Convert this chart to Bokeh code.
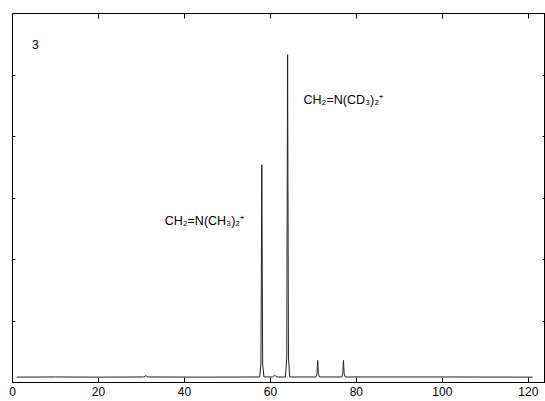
from bokeh.plotting import figure
from bokeh.models import Range1d, LinearAxis, FixedTicker, Label, CustomLabelingPolicy
from bokeh.embed import file_html
from bokeh.resources import INLINE

# spectrum (m/z, relative intensity in axis units)
mz = [1.0, 10.0, 20.0, 30.5, 31.0, 31.5, 45.0, 57.5, 57.8, 58.0, 58.2, 58.5,
      60.5, 61.0, 61.5, 63.5, 63.8, 64.0, 64.2, 64.5,
      70.6, 70.85, 71.0, 71.15, 71.4, 76.6, 76.85, 77.0, 77.15, 77.4, 100.0, 121.0]
intensity = [0.087, 0.09, 0.087, 0.09, 0.11, 0.09, 0.087, 0.09, 0.3, 3.54, 0.3, 0.09,
             0.09, 0.12, 0.09, 0.09, 0.4, 5.33, 0.4, 0.09,
             0.09, 0.15, 0.36, 0.15, 0.09, 0.09, 0.15, 0.36, 0.15, 0.09, 0.09, 0.087]

x_ticks = [0, 20, 40, 60, 80, 100, 120]
y_ticks = [1, 2, 3, 4, 5]

panel_label = "3"
ann_texts = ["CH₂=N(CD₃)₂⁺", "CH₂=N(CH₃)₂⁺"]
ann_x = [67.7, 35.4]
ann_y = [4.59, 2.62]

FONT = "Liberation Sans"

p = figure(width=545, height=401, output_backend="svg", toolbar_location=None,
           x_range=Range1d(0, 124), y_range=Range1d(0, 6),
           x_axis_location=None, y_axis_location=None,
           min_border_left=12, min_border_top=13, min_border_right=0, min_border_bottom=19)
p.xgrid.visible = False
p.ygrid.visible = False
p.outline_line_color = "black"
p.outline_line_width = 1
p.background_fill_color = "white"
p.border_fill_color = "white"

def mk_axis(ticks, labels=False):
    ax = LinearAxis(ticker=FixedTicker(ticks=ticks))
    ax.major_tick_in = 5
    ax.major_tick_out = 0
    ax.minor_tick_in = 0
    ax.minor_tick_out = 0
    ax.axis_line_color = "black"
    ax.major_tick_line_color = "black"
    ax.major_label_text_font = FONT
    if labels:
        ax.major_label_text_font_size = "12px"
        ax.major_label_text_color = "black"
        ax.major_label_standoff = 4
    else:
        ax.major_label_text_font_size = "0px"
        ax.major_label_standoff = 0
        ax.major_label_policy = CustomLabelingPolicy(code="return new Set()")
    return ax

p.add_layout(mk_axis(x_ticks, labels=True), "below")
p.add_layout(mk_axis(x_ticks), "above")
ly = mk_axis(y_ticks); ly.major_tick_in = 3
ry = mk_axis(y_ticks); ry.major_tick_in = 3
p.add_layout(ly, "left")
p.add_layout(ry, "right")

p.line(mz, intensity, line_color="#222222", line_width=1)

p.add_layout(Label(x=5.3, y=5.5, text=panel_label, text_font=FONT, text_font_size="12px",
                   text_baseline="middle", text_align="center", text_color="black"))
for t, xx, yy in zip(ann_texts, ann_x, ann_y):
    p.add_layout(Label(x=xx, y=yy, text=t, text_font=FONT, text_font_size="12.5px",
                       text_baseline="middle", text_align="left", text_color="black"))

open("out.html", "w").write(file_html(p, INLINE))
